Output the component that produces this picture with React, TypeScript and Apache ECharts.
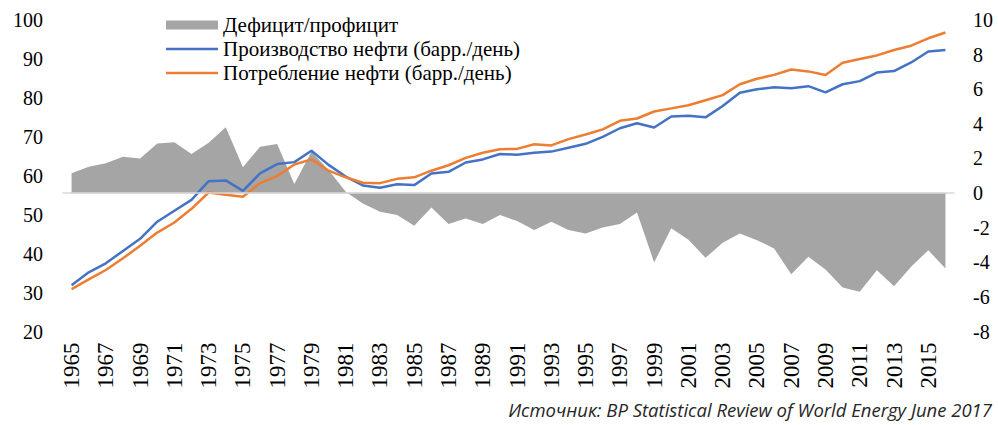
import React, { useEffect, useRef } from "react";
import * as echarts from "echarts";

const years: string[] = [];
for (let y = 1965; y <= 2016; y++) years.push(String(y));

const production = [
  31.9, 35.2, 37.5, 40.7, 43.8, 48.2, 51.0, 53.8, 58.6, 58.8,
  56.1, 60.6, 63.0, 63.5, 66.4, 62.8, 59.8, 57.5, 56.9, 57.8,
  57.6, 60.6, 61.0, 63.4, 64.2, 65.6, 65.4, 65.9, 66.2, 67.2,
  68.2, 70.0, 72.2, 73.5, 72.4, 75.2, 75.4, 75.0, 77.9, 81.3,
  82.2, 82.7, 82.5, 83.0, 81.4, 83.5, 84.3, 86.5, 86.9, 89.1,
  91.9, 92.3,
];

const consumption = [
  30.9, 33.4, 35.8, 38.8, 42.0, 45.4, 48.0, 51.5, 55.7, 55.1,
  54.6, 58.1, 59.9, 62.9, 64.2, 61.3, 59.6, 58.2, 58.1, 59.2,
  59.6, 61.3, 62.7, 64.6, 65.9, 66.8, 66.9, 68.1, 67.8, 69.4,
  70.6, 71.9, 74.1, 74.7, 76.5, 77.3, 78.1, 79.4, 80.7, 83.5,
  84.9, 85.9, 87.3, 86.8, 85.9, 89.0, 90.0, 90.9, 92.3, 93.4,
  95.3, 96.8,
];

const balance = [
  1.14, 1.52, 1.72, 2.1, 1.99, 2.87, 2.93, 2.26, 2.91, 3.8,
  1.49, 2.68, 2.84, 0.52, 2.39, 1.33, 0.08, -0.6, -1.08, -1.27,
  -1.89, -0.83, -1.79, -1.47, -1.79, -1.27, -1.62, -2.14, -1.66, -2.14,
  -2.33, -1.99, -1.79, -1.12, -4.01, -2.04, -2.7, -3.74, -2.87, -2.33,
  -2.72, -3.2, -4.69, -3.68, -4.42, -5.46, -5.71, -4.46, -5.38, -4.26,
  -3.3, -4.36,
];

const seriesNames = [
  "Дефицит/профицит",
  "Производство нефти (барр./день)",
  "Потребление нефти (барр./день)",
];
const sourceText = "Источник: BP Statistical Review of World Energy June 2017";

export default function App() {
  const ref = useRef<HTMLDivElement>(null);
  useEffect(() => {
    if (!ref.current) return;
    const chart = echarts.init(ref.current, undefined, { renderer: "svg" });
    const serif = "Liberation Serif";
    const legendText = {
      fontFamily: serif,
      fontSize: 21,
      lineHeight: 22,
      color: "#000",
    };
    const yLabel = (margin: number) => ({
      margin,
      fontFamily: serif,
      fontSize: 20,
      color: "#000",
      formatter: "{v|{value}}",
      rich: { v: { fontFamily: serif, fontSize: 20, color: "#000" } },
    });
    chart.setOption({
      animation: false,
      backgroundColor: "#fff",
      textStyle: { fontFamily: serif },
      grid: { left: 63, right: 44, top: 20, bottom: 93.5, containLabel: false },
      legend: [
        {
          orient: "vertical",
          left: 166,
          top: 14,
          padding: 0,
          itemWidth: 52,
          itemHeight: 9,
          itemGap: 0,
          selectedMode: false,
          textStyle: legendText,
          data: [{ name: seriesNames[0], icon: "rect" }],
        },
        {
          orient: "vertical",
          left: 166,
          top: 38,
          padding: 0,
          itemWidth: 52,
          itemHeight: 2.5,
          itemGap: 2,
          icon: "rect",
          selectedMode: false,
          textStyle: legendText,
          data: [{ name: seriesNames[1] }, { name: seriesNames[2] }],
        },
      ],
      xAxis: {
        type: "category",
        data: years,
        boundaryGap: true,
        axisLine: { lineStyle: { color: "#D9D9D9", width: 1.5 } },
        axisTick: { interval: 1, length: 5, lineStyle: { color: "#D9D9D9", width: 1.5 } },
        axisLabel: {
          interval: 1,
          rotate: 90,
          margin: 11,
          fontFamily: serif,
          fontSize: 23,
          color: "#000",
          formatter: "{v|{value}}",
          rich: { v: { fontFamily: serif, fontSize: 23, color: "#000" } },
        },
        splitLine: { show: false },
      },
      yAxis: [
        {
          type: "value",
          min: 20,
          max: 100,
          interval: 10,
          axisLine: { show: false },
          axisTick: { show: false },
          splitLine: { show: false },
          axisLabel: yLabel(20),
        },
        {
          type: "value",
          min: -8,
          max: 10,
          interval: 2,
          position: "right",
          axisLine: { show: false },
          axisTick: { show: false },
          splitLine: { show: false },
          axisLabel: yLabel(19),
        },
      ],
      series: [
        {
          name: seriesNames[0],
          type: "line",
          yAxisIndex: 1,
          data: balance,
          symbol: "none",
          itemStyle: { color: "#A5A5A5" },
          lineStyle: { width: 0, color: "#A5A5A5" },
          areaStyle: { color: "#A5A5A5", opacity: 1 },
          z: 1,
          markLine: {
            silent: true,
            symbol: "none",
            label: { show: false },
            lineStyle: { color: "#D9D9D9", type: "solid", width: 1.5 },
            data: [
              [
                { coord: [years[0], 0] },
                { coord: [years[years.length - 1], 0] },
              ],
            ],
          },
        },
        {
          name: seriesNames[1],
          type: "line",
          yAxisIndex: 0,
          data: production,
          symbol: "none",
          itemStyle: { color: "#4472C4" },
          lineStyle: { width: 2.5, color: "#4472C4" },
          z: 3,
        },
        {
          name: seriesNames[2],
          type: "line",
          yAxisIndex: 0,
          data: consumption,
          symbol: "none",
          itemStyle: { color: "#ED7D31" },
          lineStyle: { width: 2.5, color: "#ED7D31" },
          z: 4,
        },
      ],
      graphic: [
        {
          type: "text",
          right: 6,
          top: 400,
          style: {
            text: sourceText,
            font: 'italic 18.5px "Open Sans"',
            fill: "#262626",
          },
        },
      ],
    });
    return () => chart.dispose();
  }, []);
  return (
    <div
      ref={ref}
      style={{ position: "fixed", left: 0, top: 0, width: 998, height: 425 }}
    />
  );
}
